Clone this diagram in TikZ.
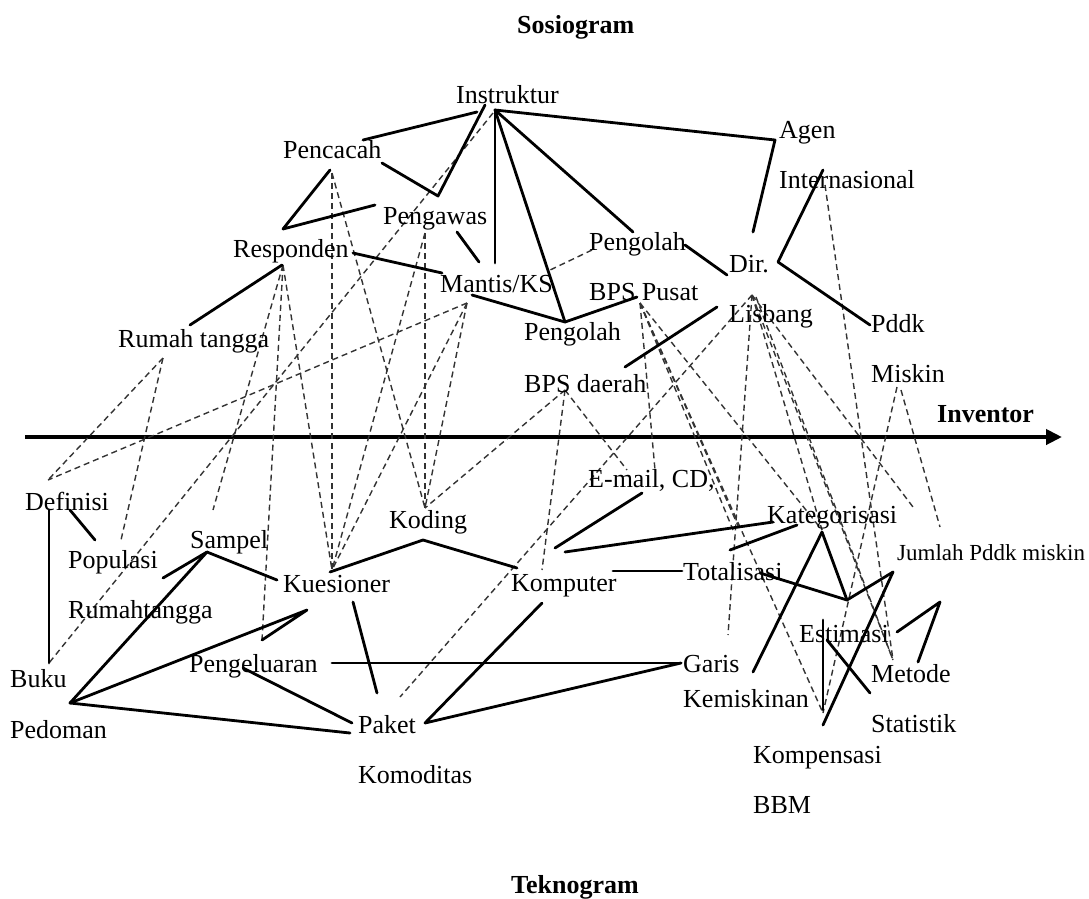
\documentclass[tikz,border=0pt]{standalone}
\usepackage{fontspec}
\setmainfont{Liberation Serif}
\usetikzlibrary{arrows.meta}
\begin{document}
\begin{tikzpicture}[x=1pt,y=-1pt]
\tikzset{
 lbl/.style={anchor=base west, inner sep=0pt, font=\fontsize{26}{30}\selectfont},
 ttl/.style={anchor=base west, inner sep=0pt, font=\fontsize{26}{30}\selectfont\bfseries},
 small/.style={anchor=base west, inner sep=0pt, font=\fontsize{23}{27}\selectfont},
 tie/.style={line width=2.8pt, line join=round, line cap=round},
 link/.style={line width=1.4pt, dash pattern=on 6pt off 4pt, black!80},
 axisline/.style={line width=4.5pt, -{Triangle[length=16pt,width=15pt]}}
}
\useasboundingbox[fill=white] (0,0) rectangle (1089,898);

% ---------- coordinates: solid connectors ----------
\coordinate (iA) at (477,112); \coordinate (pcL) at (363,140);
\coordinate (pcR) at (382,163); \coordinate (v1) at (438,196); \coordinate (iB) at (485,105);
\coordinate (pcB) at (330,170); \coordinate (r1) at (283,229); \coordinate (pgL) at (375,205);
\coordinate (rsR) at (353,253); \coordinate (mkL) at (442,273);
\coordinate (rsB) at (282,265); \coordinate (rtR) at (190,325);
\coordinate (pgB) at (457,232); \coordinate (mkT) at (479,262);
\coordinate (iC) at (495,110); \coordinate (mkV) at (495,263);
\coordinate (plLow) at (565,322); \coordinate (plUp) at (633,232);
\coordinate (agen) at (775,140); \coordinate (dirT) at (753,232);
\coordinate (plR) at (685,245); \coordinate (dirL) at (727,275);
\coordinate (intl) at (823,170); \coordinate (dirR) at (778,262); \coordinate (pddk) at (870,325);
\coordinate (mkB) at (472,295); \coordinate (bpsP) at (637,297);
\coordinate (lisL) at (717,307); \coordinate (bpsD) at (625,367);

\coordinate (defT) at (49,510); \coordinate (defB) at (49,663);
\coordinate (defR) at (70,510); \coordinate (popT) at (95,540);
\coordinate (popR) at (163,578); \coordinate (samp) at (207,552); \coordinate (kuesL) at (277,580);
\coordinate (ped) at (70,703); \coordinate (pk) at (307,610); \coordinate (pengT) at (262,640);
\coordinate (paketL) at (350,733);
\coordinate (pengR) at (243,668); \coordinate (paketT) at (352,723);
\coordinate (kuesB) at (353,602); \coordinate (paketT2) at (377,693);
\coordinate (pengE) at (332,663); \coordinate (garisL) at (681,663);
\coordinate (kuesT) at (330,572); \coordinate (kod) at (423,540); \coordinate (kompL) at (517,568);
\coordinate (kompB) at (542,603); \coordinate (paketR) at (425,723);
\coordinate (kompT) at (555,548); \coordinate (email) at (642,493);
\coordinate (kompR) at (565,552); \coordinate (katL) at (773,522);
\coordinate (kompE) at (613,571); \coordinate (totL) at (682,571);
\coordinate (totT) at (730,550); \coordinate (katB) at (797,525);
\coordinate (totR) at (760,573); \coordinate (vBot) at (847,600); \coordinate (jum) at (893,572);
\coordinate (katJ) at (822,532); \coordinate (garisR) at (753,672);
\coordinate (komp) at (823,725);
\coordinate (vxT) at (823,620); \coordinate (vxB) at (823,710);
\coordinate (est) at (827,640); \coordinate (stat) at (870,693);
\coordinate (estR) at (897,632); \coordinate (met1) at (940,602); \coordinate (met2) at (918,662);

% ---------- coordinates: dashed connectors ----------
\coordinate (instrD) at (493,113);
\coordinate (pcD) at (332,173);
\coordinate (kuesD) at (332,570);
\coordinate (kodD) at (425,508);
\coordinate (pgD) at (425,233);
\coordinate (rsD) at (283,265);
\coordinate (pengD) at (262,640);
\coordinate (sampD) at (213,510);
\coordinate (rtD) at (163,358);
\coordinate (defD) at (48,480);
\coordinate (popD) at (121,540);
\coordinate (mkD) at (467,303);
\coordinate (plUpD) at (592,250); \coordinate (mkR) at (548,271);
\coordinate (bpsdD) at (565,390);
\coordinate (kompD) at (542,570);
\coordinate (emailD) at (627,470);
\coordinate (lisD) at (752,295);
\coordinate (paketD) at (400,697);
\coordinate (garisD) at (728,635);
\coordinate (katD) at (822,530);
\coordinate (metD) at (893,660);
\coordinate (jumD) at (913,507);
\coordinate (bpspD) at (640,303);
\coordinate (emailD2) at (655,470);
\coordinate (totD) at (733,530);
\coordinate (totD2) at (739,528);
\coordinate (kompsD) at (823,713);
\coordinate (intlD) at (825,185);
\coordinate (miskD) at (897,387);
\coordinate (miskD2) at (901,390);
\coordinate (jumD2) at (940,527);
\coordinate (lisD2) at (756,297);

% ---------- axis ----------
\coordinate (axL) at (25,437); \coordinate (axR) at (1062,437);
\draw[axisline] (axL) -- (axR);

% ---------- dashed links ----------
\draw[link] (instrD) -- (defB);
\draw[link] (pcD) -- (kuesD);
\draw[link] (pcD) -- (kodD);
\draw[link] (pgD) -- (kodD);
\draw[link] (pgD) -- (kuesD);
\draw[link] (rsD) -- (pengD);
\draw[link] (rsD) -- (kuesD);
\draw[link] (rsD) -- (sampD);
\draw[link] (rtD) -- (defD);
\draw[link] (rtD) -- (popD);
\draw[link] (mkD) -- (defD);
\draw[link] (mkD) -- (kuesD);
\draw[link] (mkD) -- (kodD);
\draw[link] (plUpD) -- (mkR);
\draw[link] (bpsdD) -- (kodD);
\draw[link] (bpsdD) -- (kompD);
\draw[link] (bpsdD) -- (emailD);
\draw[link] (lisD) -- (paketD);
\draw[link] (lisD) -- (garisD);
\draw[link] (lisD) -- (katD);
\draw[link] (lisD) -- (metD);
\draw[link] (lisD2) -- (metD);
\draw[link] (lisD) -- (jumD);
\draw[link] (bpspD) -- (emailD2);
\draw[link] (bpspD) -- (totD);
\draw[link] (bpspD) -- (totD2);
\draw[link] (bpspD) -- (katD);
\draw[link] (bpspD) -- (kompsD);
\draw[link] (intlD) -- (metD);
\draw[link] (miskD) -- (kompsD);
\draw[link] (miskD2) -- (jumD2);

% ---------- solid ties ----------
\draw[tie] (iA) -- (pcL);
\draw[tie] (pcR) -- (v1) -- (iB);
\draw[tie] (pcB) -- (r1) -- (pgL);
\draw[tie] (rsR) -- (mkL);
\draw[tie] (rsB) -- (rtR);
\draw[tie] (pgB) -- (mkT);
\draw[tie] (iC) -- (mkV);
\draw[tie] (iC) -- (plLow);
\draw[tie] (iC) -- (plUp);
\draw[tie] (iC) -- (agen) -- (dirT);
\draw[tie] (plR) -- (dirL);
\draw[tie] (intl) -- (dirR) -- (pddk);
\draw[tie] (mkB) -- (plLow) -- (bpsP);
\draw[tie] (lisL) -- (bpsD);

\draw[tie] (defT) -- (defB);
\draw[tie] (defR) -- (popT);
\draw[tie] (popR) -- (samp) -- (kuesL);
\draw[tie] (samp) -- (ped);
\draw[tie] (ped) -- (pk) -- (pengT);
\draw[tie] (ped) -- (paketL);
\draw[tie] (pengR) -- (paketT);
\draw[tie] (kuesB) -- (paketT2);
\draw[tie] (pengE) -- (garisL);
\draw[tie] (kuesT) -- (kod) -- (kompL);
\draw[tie] (kompB) -- (paketR) -- (garisL);
\draw[tie] (kompT) -- (email);
\draw[tie] (kompR) -- (katL);
\draw[tie] (kompE) -- (totL);
\draw[tie] (totT) -- (katB);
\draw[tie] (totR) -- (vBot) -- (jum);
\draw[tie] (katJ) -- (vBot);
\draw[tie] (katJ) -- (garisR);
\draw[tie] (jum) -- (komp);
\draw[tie] (vxT) -- (vxB);
\draw[tie] (est) -- (stat);
\draw[tie] (estR) -- (met1) -- (met2);

% ---------- labels ----------
\node[ttl] (tSos) at (517,33) {Sosiogram};
\node[ttl] (tTek) at (511,893) {Teknogram};
\node[ttl] (tInv) at (937,422) {Inventor};

\node[lbl] (nInstr) at (456,103) {Instruktur};
\node[lbl] (nPenc) at (283,158) {Pencacah};
\node[lbl] (nPeng) at (383,224) {Pengawas};
\node[lbl] (nResp) at (233,257) {Responden};
\node[lbl] (nMant) at (440,292) {Mantis/KS};
\node[lbl] (nRuta) at (118,347) {Rumah tangga};
\node[lbl] (nPolU) at (589,250) {Pengolah};
\node[lbl] (nBpsP) at (589,300) {BPS Pusat};
\node[lbl] (nPolL) at (524,340) {Pengolah};
\node[lbl] (nBpsD) at (524,392) {BPS daerah};
\node[lbl] (nAgen) at (779,138) {Agen};
\node[lbl] (nInt) at (779,188) {Internasional};
\node[lbl] (nDir) at (729,272) {Dir.};
\node[lbl] (nLis) at (729,322) {Lisbang};
\node[lbl] (nPddk) at (871,332) {Pddk};
\node[lbl] (nMisk) at (871,382) {Miskin};

\node[lbl] (nDef) at (25,510) {Definisi};
\node[lbl] (nPop) at (68,568) {Populasi};
\node[lbl] (nRt) at (68,618) {Rumahtangga};
\node[lbl] (nSamp) at (190,548) {Sampel};
\node[lbl] (nKues) at (283,592) {Kuesioner};
\node[lbl] (nKod) at (389,528) {Koding};
\node[lbl] (nKomp) at (511,591) {Komputer};
\node[lbl] (nMail) at (588,487) {E-mail, CD,};
\node[lbl] (nKat) at (767,523) {Kategorisasi};
\node[lbl] (nTot) at (683,580) {Totalisasi};
\node[small] (nJum) at (897,560) {Jumlah Pddk miskin};
\node[lbl] (nEst) at (799,642) {Estimasi};
\node[lbl] (nGar) at (683,672) {Garis};
\node[lbl] (nKem) at (683,707) {Kemiskinan};
\node[lbl] (nMet) at (871,682) {Metode};
\node[lbl] (nStat) at (871,732) {Statistik};
\node[lbl] (nKps) at (753,763) {Kompensasi};
\node[lbl] (nBBM) at (753,813) {BBM};
\node[lbl] (nBuku) at (10,687) {Buku};
\node[lbl] (nPed) at (10,738) {Pedoman};
\node[lbl] (nPgl) at (189,672) {Pengeluaran};
\node[lbl] (nPak) at (358,733) {Paket};
\node[lbl] (nKmd) at (358,783) {Komoditas};
\end{tikzpicture}
\end{document}
